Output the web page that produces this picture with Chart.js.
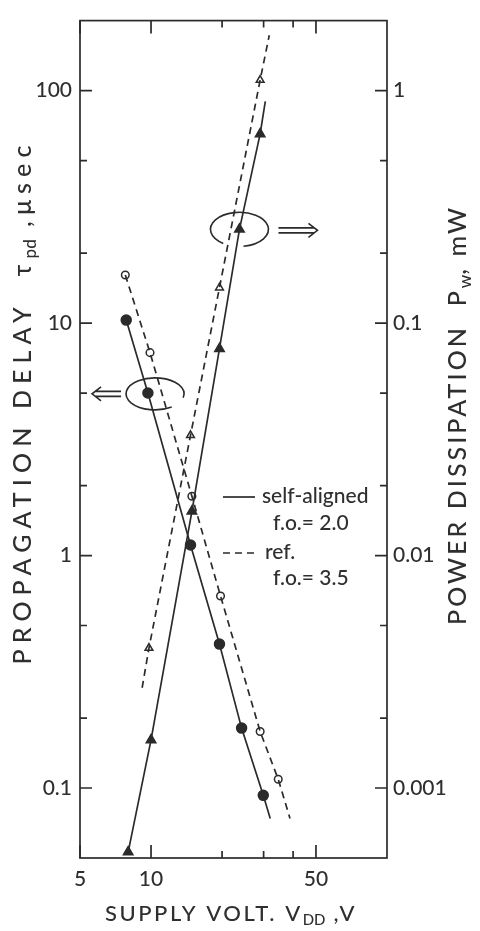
<!DOCTYPE html>
<html>
<head>
<meta charset="utf-8">
<script src="https://cdn.jsdelivr.net/npm/chart.js@4.4.0/dist/chart.umd.min.js"></script>
<style>
  html, body { margin: 0; padding: 0; background: #fff; }
  #wrap { width: 480px; height: 931px; }
</style>
</head>
<body>
<div id="wrap"><canvas id="grafico"></canvas></div>
<script>
// Valores (V en voltios, retardo en µs, potencia en mW)
const vSelfDelay = [7.85, 9.7, 14.7, 19.5, 24.2, 29.9];
const tSelfDelay = [10.3, 5.0, 1.11, 0.416, 0.181, 0.093];
const vSelfDelayEnd = [32];
const tSelfDelayEnd = [0.074];

const vRefDelay = [7.78, 9.9, 14.9, 19.7, 29.0, 34.6];
const tRefDelay = [16.1, 7.46, 1.80, 0.67, 0.175, 0.109];
const vRefDelayEnd = [38.8];
const tRefDelayEnd = [0.074];

const vSelfPower = [8.0, 10.0, 14.9, 19.5, 23.7, 29.0];
const pSelfPower = [0.00053, 0.00161, 0.0155, 0.0776, 0.253, 0.651];
const vSelfPowerEnd = [30.5];
const pSelfPowerEnd = [0.898];

const vRefPower = [9.8, 14.7, 19.5, 29.0];
const pRefPower = [0.0040, 0.0329, 0.142, 1.11];
const vRefPowerEnd = [9.17, 31.7];
const pRefPowerEnd = [0.0027, 1.73];

// Marcas de los ejes
const xTicks = [5, 10, 20, 30, 40, 50];
const xLabels = [5, 10, 50];
const delayTicks = [0.1, 0.2, 0.5, 1, 2, 5, 10, 20, 50, 100];
const delayLabels = [0.1, 1, 10, 100];
const powerTicks = [0.001, 0.002, 0.005, 0.01, 0.02, 0.05, 0.1, 0.2, 0.5, 1];
const powerLabels = [0.001, 0.01, 0.1, 1];

const TINTA = "#2b2b2b";
const TEXTO = "#2f2f2f";
const FUENTE = "Lato, 'Open Sans', sans-serif";
const PESO = 500;

const puntos = (xs, ys) => xs.map((x, i) => ({ x, y: ys[i] }));
const linea = (xs, ys, xe, ye) =>
  puntos(xs.concat(xe), ys.concat(ye)).sort((a, b) => a.x - b.x);

const datasetLinea = (data, eje, dash) => ({
  data,
  yAxisID: eje,
  borderColor: TINTA,
  borderWidth: 1.7,
  borderDash: dash,
  pointRadius: 0,
  tension: 0,
  fill: false,
});

const datasetMarcas = (data, eje, estilo, radio, relleno) => ({
  data,
  yAxisID: eje,
  showLine: false,
  pointStyle: estilo,
  pointRadius: radio,
  pointBorderWidth: 1.5,
  pointBorderColor: TINTA,
  pointBackgroundColor: relleno,
  clip: 8,
});

// Dibuja texto con subíndices ajustado a un ancho
const dibujarTexto = (ctx, partes, cx, cy, ancho, tam) => {
  let base = 0;
  let letras = 0;
  ctx.letterSpacing = "0px";
  partes.forEach((p) => {
    ctx.font = `${PESO} ${p.sub ? tam * 0.68 : tam}px ${FUENTE}`;
    p.w = ctx.measureText(p.t).width;
    base += p.w;
    if (!p.sub) letras += p.t.length;
  });
  const esp = Math.max(0, (ancho - base) / letras);
  let x = cx - ancho / 2;
  ctx.textAlign = "left";
  ctx.textBaseline = "middle";
  partes.forEach((p) => {
    const e = p.sub ? 0 : esp;
    ctx.font = `${PESO} ${p.sub ? tam * 0.68 : tam}px ${FUENTE}`;
    ctx.letterSpacing = `${e}px`;
    ctx.fillText(p.t, x, cy + (p.sub ? tam * 0.3 : 0));
    x += p.w + e * p.t.length;
  });
  ctx.letterSpacing = "0px";
};

const flecha = (ctx, x0, x1, y) => {
  const dir = Math.sign(x1 - x0);
  ctx.beginPath();
  ctx.moveTo(x0, y - 2.5);
  ctx.lineTo(x1 - dir * 3, y - 2.5);
  ctx.moveTo(x0, y + 2.5);
  ctx.lineTo(x1 - dir * 3, y + 2.5);
  ctx.moveTo(x1 - dir * 9, y - 7);
  ctx.lineTo(x1, y);
  ctx.lineTo(x1 - dir * 9, y + 7);
  ctx.stroke();
};

const rad = (g) => (g * Math.PI) / 180;

const extras = {
  id: "extras",
  afterDraw(chart) {
    const { ctx, chartArea: a, scales } = chart;
    const { x, y, y2 } = scales;
    ctx.save();
    ctx.strokeStyle = TINTA;
    ctx.fillStyle = TEXTO;
    ctx.lineWidth = 1.7;
    ctx.strokeRect(a.left, a.top, a.right - a.left, a.bottom - a.top);

    // marcas hacia dentro
    ctx.beginPath();
    delayTicks.forEach((v) => {
      const py = y.getPixelForValue(v);
      const l = delayLabels.includes(v) ? 12 : 7;
      ctx.moveTo(a.left, py);
      ctx.lineTo(a.left + l, py);
    });
    powerTicks.forEach((v) => {
      const py = y2.getPixelForValue(v);
      const l = powerLabels.includes(v) ? 12 : 7;
      ctx.moveTo(a.right, py);
      ctx.lineTo(a.right - l, py);
    });
    xTicks.forEach((v) => {
      const px = x.getPixelForValue(v);
      const l = xLabels.includes(v) ? 13 : 7;
      ctx.moveTo(px, a.bottom);
      ctx.lineTo(px, a.bottom - l);
      ctx.moveTo(px, a.top);
      ctx.lineTo(px, a.top + l);
    });
    ctx.stroke();

    // elipses y flechas
    ctx.lineWidth = 1.6;
    const c1x = x.getPixelForValue(10.4);
    const c1y = y.getPixelForValue(4.96);
    ctx.beginPath();
    ctx.ellipse(c1x, c1y, 29, 16, 0, rad(55), rad(374));
    ctx.stroke();
    flecha(ctx, c1x - 34, c1x - 63, c1y);

    const c2x = x.getPixelForValue(23.7);
    const c2y = y2.getPixelForValue(0.253);
    ctx.beginPath();
    ctx.ellipse(c2x, c2y, 29, 17, 0, rad(124), rad(442));
    ctx.stroke();
    flecha(ctx, c2x + 39, c2x + 78, c2y + 1);

    // leyenda
    ctx.lineWidth = 1.7;
    ctx.beginPath();
    ctx.moveTo(223, 497);
    ctx.lineTo(255, 497);
    ctx.stroke();
    ctx.setLineDash([7, 5]);
    ctx.beginPath();
    ctx.moveTo(223, 553);
    ctx.lineTo(255, 553);
    ctx.stroke();
    ctx.setLineDash([]);
    ctx.font = `${PESO} 21px ${FUENTE}`;
    ctx.textAlign = "left";
    ctx.textBaseline = "middle";
    ctx.fillText("self-aligned", 262, 496);
    ctx.fillText("f.o.= 2.0", 273, 523);
    ctx.fillText("ref.", 265, 552);
    ctx.fillText("f.o.= 3.5", 273, 578);

    // títulos de los ejes
    ctx.save();
    ctx.translate(23, 402);
    ctx.rotate(-Math.PI / 2);
    dibujarTexto(ctx, [
      { t: "PROPAGATION DELAY  " },
      { t: "τ" },
      { t: "pd", sub: true },
      { t: " ,μsec" },
    ], 0, 0, 525, 25);
    ctx.restore();

    ctx.save();
    ctx.translate(458, 415);
    ctx.rotate(-Math.PI / 2);
    dibujarTexto(ctx, [
      { t: "POWER DISSIPATION  P" },
      { t: "w", sub: true },
      { t: ", mW" },
    ], 0, 0, 420, 25);
    ctx.restore();

    dibujarTexto(ctx, [
      { t: "SUPPLY VOLT. V" },
      { t: "DD", sub: true },
      { t: " ,V" },
    ], 231, 914, 252, 22);
    ctx.restore();
  },
};

const fuenteTicks = { family: FUENTE, size: 21, weight: PESO };

new Chart(document.querySelector("#grafico"), {
  type: "line",
  data: {
    datasets: [
      datasetLinea(linea(vSelfDelay, tSelfDelay, vSelfDelayEnd, tSelfDelayEnd), "y", []),
      datasetLinea(linea(vRefDelay, tRefDelay, vRefDelayEnd, tRefDelayEnd), "y", [7, 5]),
      datasetLinea(linea(vSelfPower, pSelfPower, vSelfPowerEnd, pSelfPowerEnd), "y2", []),
      datasetLinea(linea(vRefPower, pRefPower, vRefPowerEnd, pRefPowerEnd), "y2", [7, 5]),
      datasetMarcas(puntos(vSelfDelay, tSelfDelay), "y", "circle", 5, TINTA),
      datasetMarcas(puntos(vRefDelay, tRefDelay), "y", "circle", 3.8, "#fff"),
      datasetMarcas(puntos(vSelfPower, pSelfPower), "y2", "triangle", 5.5, TINTA),
      datasetMarcas(puntos(vRefPower, pRefPower), "y2", "triangle", 4.5, "#fff"),
    ],
  },
  options: {
    responsive: true,
    maintainAspectRatio: false,
    animation: false,
    devicePixelRatio: 1,
    layout: { padding: { top: 8, left: 0, right: 0, bottom: 0 } },
    plugins: { legend: { display: false }, tooltip: { enabled: false } },
    scales: {
      x: {
        type: "logarithmic",
        min: 5,
        max: 100,
        afterBuildTicks: (s) => { s.ticks = xTicks.map((v) => ({ value: v })); },
        afterFit: (s) => { s.height = 73; },
        ticks: {
          autoSkip: false,
          maxRotation: 0,
          padding: 9,
          color: TEXTO,
          font: fuenteTicks,
          callback: (v) => (xLabels.includes(v) ? String(v) : ""),
        },
        grid: { display: false, drawTicks: false },
        border: { display: false },
      },
      y: {
        type: "logarithmic",
        position: "left",
        min: 0.05,
        max: 200,
        afterBuildTicks: (s) => { s.ticks = delayTicks.map((v) => ({ value: v })); },
        afterFit: (s) => { s.width = 80; },
        ticks: {
          autoSkip: false,
          padding: 8,
          color: TEXTO,
          font: fuenteTicks,
          callback: (v) => (delayLabels.includes(v) ? String(v) : ""),
        },
        grid: { display: false, drawTicks: false },
        border: { display: false },
      },
      y2: {
        type: "logarithmic",
        position: "right",
        min: 0.0005,
        max: 2,
        afterBuildTicks: (s) => { s.ticks = powerTicks.map((v) => ({ value: v })); },
        afterFit: (s) => { s.width = 93; },
        ticks: {
          autoSkip: false,
          padding: 6,
          color: TEXTO,
          font: fuenteTicks,
          callback: (v) => (powerLabels.includes(v) ? String(v) : ""),
        },
        grid: { display: false, drawTicks: false },
        border: { display: false },
      },
    },
  },
  plugins: [extras],
});
</script>
</body>
</html>
